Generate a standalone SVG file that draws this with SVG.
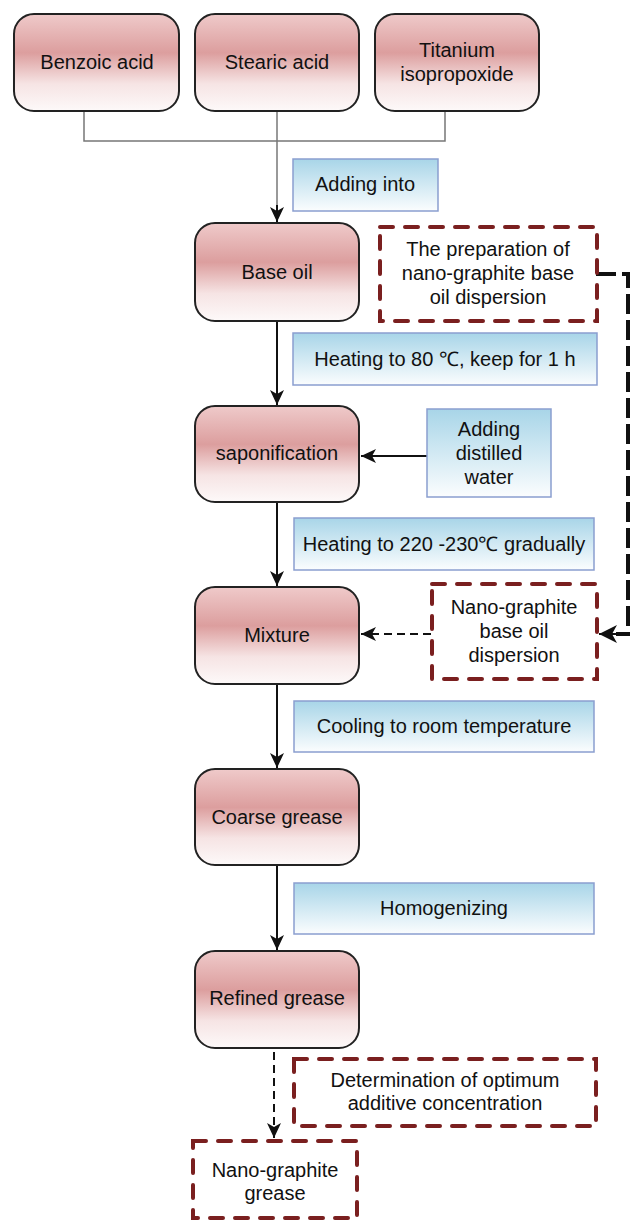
<svg xmlns="http://www.w3.org/2000/svg" width="630" height="1221" viewBox="0 0 630 1221">
<defs>
<linearGradient id="pink" x1="0" y1="0" x2="0" y2="1">
<stop offset="0" stop-color="#efcaca"/>
<stop offset="0.4" stop-color="#dc9e9e"/>
<stop offset="0.72" stop-color="#f6e4e4"/>
<stop offset="1" stop-color="#fdf9f9"/>
</linearGradient>
<linearGradient id="blue" x1="0" y1="0" x2="0" y2="1">
<stop offset="0" stop-color="#a8d5e8"/>
<stop offset="1" stop-color="#fbfdfe"/>
</linearGradient>
<marker id="ah" markerUnits="userSpaceOnUse" markerWidth="16" markerHeight="16" viewBox="0 0 16 16" refX="15" refY="8" orient="auto">
<path d="M0,1 L15,8 L0,15 L4,8 Z" fill="#111"/>
</marker>
<marker id="ahbig" markerUnits="userSpaceOnUse" markerWidth="20" markerHeight="20" viewBox="0 0 20 20" refX="18" refY="10" orient="auto">
<path d="M0,1 L18,10 L0,19 L5,10 Z" fill="#111"/>
</marker>
</defs>
<style>
.node rect.p{fill:url(#pink);stroke:#222;stroke-width:2}
.node rect.b{fill:url(#blue);stroke:#8a9ecf;stroke-width:1.5}
.node rect.d{fill:none;stroke:#7a1f1f;stroke-width:4;stroke-dasharray:13 12;stroke-linecap:round}
text{font-family:"Liberation Sans",Arial,sans-serif;font-size:20px;fill:#111;text-anchor:middle}
.gray{fill:none;stroke:#777;stroke-width:1.5}
.solid{fill:none;stroke:#111;stroke-width:2}
.dash{fill:none;stroke:#111;stroke-width:2;stroke-dasharray:8 5}
.thick{fill:none;stroke:#111;stroke-width:4;stroke-dasharray:20 6}
</style>

<g id="connectors">
<path class="gray" d="M84,111 V141 H445 V111"/>
<path class="gray" d="M277,111 V210"/>
<path class="solid" d="M277,205 V222" marker-end="url(#ah)"/>
<path class="solid" d="M277,321 V405" marker-end="url(#ah)"/>
<path class="solid" d="M277,502 V586" marker-end="url(#ah)"/>
<path class="solid" d="M277,684 V768" marker-end="url(#ah)"/>
<path class="solid" d="M277,865 V950" marker-end="url(#ah)"/>
<path class="solid" d="M427,456 H361" marker-end="url(#ah)"/>
<path class="dash" d="M431,634 H361" marker-end="url(#ah)"/>
<path class="dash" d="M274,1052 V1138" marker-end="url(#ah)"/>
<path class="thick" d="M596,274 H628 V634 H616"/>
<path class="solid" d="M620,634 H599" stroke-width="4" marker-end="url(#ahbig)"/>
</g>

<g id="benzoic" class="node"><rect class="p" x="14" y="14" width="165" height="97" rx="20"/><text x="97" y="69">Benzoic acid</text></g>
<g id="stearic" class="node"><rect class="p" x="195" y="14" width="164" height="97" rx="20"/><text x="277" y="69">Stearic acid</text></g>
<g id="titanium" class="node"><rect class="p" x="375" y="14" width="164" height="97" rx="20"/><text x="457" y="57">Titanium</text><text x="457" y="81">isopropoxide</text></g>

<g id="adding-into" class="node"><rect class="b" x="293" y="159" width="145" height="52"/><text x="365" y="191">Adding into</text></g>

<g id="base-oil" class="node"><rect class="p" x="195" y="223" width="164" height="98" rx="20"/><text x="277" y="279">Base oil</text></g>
<g id="preparation" class="node"><rect class="d" x="380" y="227" width="217" height="94"/><text x="488" y="256">The preparation of</text><text x="488" y="280">nano-graphite base</text><text x="488" y="304">oil dispersion</text></g>

<g id="heating80" class="node"><rect class="b" x="293" y="333" width="304" height="52"/><text x="445" y="366">Heating to 80 ℃, keep for 1 h</text></g>

<g id="saponification" class="node"><rect class="p" x="195" y="406" width="164" height="96" rx="20"/><text x="277" y="460">saponification</text></g>
<g id="distilled" class="node"><rect class="b" x="427" y="409" width="124" height="88"/><text x="489" y="436">Adding</text><text x="489" y="460">distilled</text><text x="489" y="484">water</text></g>

<g id="heating220" class="node"><rect class="b" x="294" y="518" width="300" height="52"/><text x="444" y="551">Heating to 220 -230℃ gradually</text></g>

<g id="mixture" class="node"><rect class="p" x="195" y="587" width="164" height="97" rx="20"/><text x="277" y="642">Mixture</text></g>
<g id="dispersion" class="node"><rect class="d" x="432" y="584" width="165" height="95"/><text x="514" y="614">Nano-graphite</text><text x="514" y="638">base oil</text><text x="514" y="662">dispersion</text></g>

<g id="cooling" class="node"><rect class="b" x="294" y="701" width="300" height="51"/><text x="444" y="733">Cooling to room temperature</text></g>

<g id="coarse" class="node"><rect class="p" x="195" y="769" width="164" height="96" rx="20"/><text x="277" y="824">Coarse grease</text></g>

<g id="homogenizing" class="node"><rect class="b" x="294" y="883" width="300" height="51"/><text x="444" y="915">Homogenizing</text></g>

<g id="refined" class="node"><rect class="p" x="195" y="951" width="164" height="97" rx="20"/><text x="277" y="1005">Refined grease</text></g>

<g id="determination" class="node"><rect class="d" x="294" y="1059" width="302" height="67"/><text x="445" y="1087">Determination of optimum</text><text x="445" y="1110">additive concentration</text></g>

<g id="nano-grease" class="node"><rect class="d" x="193" y="1141" width="164" height="77"/><text x="275" y="1177">Nano-graphite</text><text x="275" y="1200">grease</text></g>
</svg>
